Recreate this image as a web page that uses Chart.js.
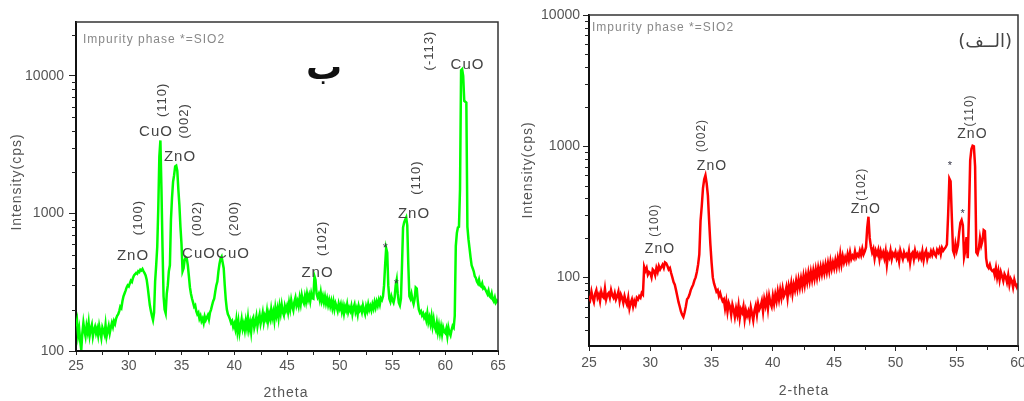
<!DOCTYPE html>
<html>
<head>
<meta charset="utf-8">
<script src="https://cdn.jsdelivr.net/npm/chart.js@4.4.1/dist/chart.umd.min.js"></script>
<style>
  html, body { margin: 0; padding: 0; background: #fff; }
  #wrap { position: relative; width: 1024px; height: 401px; overflow: hidden; }
  canvas { position: absolute; top: 0; }
</style>
</head>
<body>
<div id="wrap">
  <canvas id="leftChart" width="512" height="401" style="left:0"></canvas>
  <canvas id="rightChart" width="512" height="401" style="left:512px"></canvas>
</div>
<script>
// both scans start at 25 deg with a 0.1 deg step
const scanStart = 25;
const scanStep = 0.1;

// left pattern (green), 25.0 .. 65.0 deg, one row per degree
const leftCounts = [
  150,165,130,145,118,102,135,160,140,128,
  152,138,160,130,145,155,128,142,150,135,
  145,130,152,138,125,148,140,132,155,128,
  140,152,135,148,160,150,165,158,172,180,
  185,195,210,205,230,250,262,275,290,300,
  295,310,325,318,340,355,362,370,365,380,
  375,390,385,395,380,368,355,330,290,250,
  215,195,180,168,190,320,420,570,1100,2600,
  3400,1500,570,250,200,188,260,300,380,420,
  900,1300,1700,1900,2200,2230,2050,1500,1150,800,
  600,380,400,460,480,470,420,350,290,260,
  240,225,210,215,195,185,190,172,180,165,
  172,160,178,168,175,182,170,190,200,215,
  230,240,270,300,320,380,430,470,485,440,
  400,300,235,200,185,178,170,160,165,150,
  158,145,168,140,162,136,152,170,146,158,
  142,165,148,174,145,160,138,168,175,148,
  160,178,152,170,184,158,172,190,162,180,
  170,194,165,186,172,200,175,192,168,205,
  182,202,175,210,188,216,192,182,212,198,
  212,192,224,202,234,212,198,228,244,215,
  230,212,244,220,254,232,222,250,228,260,
  236,254,230,262,242,240,350,330,262,246,
  258,236,266,232,250,226,248,222,240,216,
  234,212,230,206,228,202,222,210,196,220,
  204,218,194,212,188,210,198,218,192,206,
  196,212,186,206,218,192,204,185,212,198,
  206,192,214,198,186,210,196,218,200,212,
  198,218,204,226,208,228,214,234,218,242,
  235,250,300,420,560,520,300,240,228,250,
  235,225,245,300,330,260,225,215,240,420,
  790,860,900,935,820,420,250,240,260,235,
  220,240,290,285,230,200,190,195,182,188,
  175,182,168,188,162,175,158,178,152,170,
  150,142,160,138,154,135,150,132,148,138,
  135,145,128,148,136,130,142,152,148,180,
  580,720,790,800,1500,11000,11200,10000,6600,6500,
  6400,800,650,560,480,420,400,380,350,340,
  320,310,330,300,295,310,285,290,280,270,
  260,275,250,245,262,238,230,245,225,232,
  225
];

// right pattern (red), 25.0 .. 60.0 deg
const rightCounts = [
  72,68,78,70,65,75,80,70,74,66,
  78,72,70,82,68,74,76,70,80,73,
  70,76,68,72,78,66,74,70,64,72,
  66,62,70,58,64,68,60,66,62,70,
  68,72,70,76,74,120,112,118,105,110,
  108,100,115,112,104,118,110,122,115,120,
  125,118,130,128,122,115,118,108,100,92,
  88,80,72,65,60,55,52,50,54,60,
  68,70,74,80,84,88,95,100,110,125,
  150,270,350,480,560,600,520,420,270,180,
  130,100,90,84,78,80,72,76,70,66,
  68,58,66,55,64,60,52,62,57,50,
  58,52,61,49,57,54,60,48,56,51,
  55,49,59,53,47,56,61,52,63,57,
  60,66,55,68,61,70,58,72,64,60,
  72,63,74,66,78,68,80,70,82,72,
  76,84,70,86,78,90,75,88,80,94,
  82,96,84,98,86,102,88,104,92,108,
  94,110,96,112,98,115,100,118,104,120,
  106,122,108,125,110,128,112,132,116,130,
  118,135,120,140,124,150,126,145,130,142,
  132,150,135,155,138,146,140,158,142,150,
  145,160,148,165,150,158,170,240,290,200,
  172,155,165,140,160,150,162,138,158,145,
  155,140,158,125,150,142,160,138,152,146,
  156,140,150,132,160,148,138,155,145,150,
  140,158,130,150,155,138,160,145,152,140,
  150,140,158,135,152,160,138,150,145,158,
  148,160,150,145,162,155,165,150,168,160,
  165,170,178,300,566,540,290,160,150,180,
  160,175,220,260,273,250,143,160,203,140,
  300,780,950,1010,1000,700,155,150,165,200,
  175,190,229,225,140,122,118,125,115,112,
  114,104,118,100,112,96,110,102,94,106,
  101,92,104,88,98,94,84,96,88,84,
  90
];

const leftXTicks = [25, 30, 35, 40, 45, 50, 55, 60, 65];
const rightXTicks = [25, 30, 35, 40, 45, 50, 55, 60];
const yTicks = [100, 1000, 10000];

// peak labels anchored at (2theta, counts)
const leftPeaks = [
  { t: "ZnO", x: 30.4, y: 488 },
  { t: "(100)", x: 30.92, y: 935, rot: true },
  { t: "CuO", x: 32.58, y: 3925 },
  { t: "(110)", x: 33.2, y: 6700, rot: true },
  { t: "ZnO", x: 34.86, y: 2565 },
  { t: "(002)", x: 35.24, y: 4720, rot: true },
  { t: "CuO", x: 36.66, y: 505 },
  { t: "(002)", x: 36.52, y: 920, rot: true },
  { t: "CuO", x: 39.88, y: 505 },
  { t: "(200)", x: 40.0, y: 920, rot: true },
  { t: "ZnO", x: 47.89, y: 367 },
  { t: "(102)", x: 48.32, y: 659, rot: true },
  { t: "*", x: 54.37, y: 586, star: true },
  { t: "*", x: 55.4, y: 318, star: true },
  { t: "ZnO", x: 57.04, y: 1000 },
  { t: "(110)", x: 57.23, y: 1824, rot: true },
  { t: "CuO", x: 62.11, y: 12110 },
  { t: "(-113)", x: 58.46, y: 15310, rot: true }
];

const rightPeaks = [
  { t: "ZnO", x: 30.79, y: 164 },
  { t: "(100)", x: 30.38, y: 273, rot: true },
  { t: "ZnO", x: 35.03, y: 702 },
  { t: "(002)", x: 34.18, y: 1208, rot: true },
  { t: "ZnO", x: 47.59, y: 330 },
  { t: "(102)", x: 47.24, y: 513, rot: true },
  { t: "*", x: 54.49, y: 747, star: true },
  { t: "*", x: 55.53, y: 322, star: true },
  { t: "ZnO", x: 56.28, y: 1230 },
  { t: "(110)", x: 56.08, y: 1871, rot: true }
];

const FONT = '"Liberation Sans", Arial, sans-serif';
const ARABIC = '"DejaVu Sans", sans-serif';
const TEXT = "#555";

Chart.defaults.font.family = FONT;
Chart.defaults.color = TEXT;

function toPoints(counts) {
  return counts.map((c, i) => ({ x: +(scanStart + i * scanStep).toFixed(1), y: c }));
}

// frame, minor ticks, peak labels and free text
const xrdDecor = {
  id: "xrdDecor",
  afterDraw(chart, args, opts) {
    const { ctx, chartArea: a } = chart;
    const xs = chart.scales.x, ys = chart.scales.y;
    ctx.save();

    ctx.strokeStyle = "#333";
    ctx.lineWidth = 1.5;
    ctx.beginPath();
    ctx.moveTo(a.left, a.top);
    ctx.lineTo(a.right, a.top);
    ctx.lineTo(a.right, a.bottom);
    ctx.stroke();

    ctx.strokeStyle = "#222";
    ctx.lineWidth = 1;
    for (let v = xs.min + 2.5; v < xs.max; v += 5) {
      const px = Math.round(xs.getPixelForValue(v)) + 0.5;
      ctx.beginPath();
      ctx.moveTo(px, a.bottom);
      ctx.lineTo(px, a.bottom + 4);
      ctx.stroke();
    }
    const d0 = Math.floor(Math.log10(ys.min)), d1 = Math.ceil(Math.log10(ys.max));
    for (let d = d0; d <= d1; d++) {
      for (let m = 2; m <= 9; m++) {
        const v = m * Math.pow(10, d);
        if (v <= ys.min || v >= ys.max) continue;
        const py = Math.round(ys.getPixelForValue(v)) + 0.5;
        ctx.beginPath();
        ctx.moveTo(a.left - 4, py);
        ctx.lineTo(a.left, py);
        ctx.stroke();
      }
    }

    ctx.textAlign = "center";
    ctx.textBaseline = "middle";
    ctx.letterSpacing = "1px";
    opts.peaks.forEach((p) => {
      const px = xs.getPixelForValue(p.x);
      const py = ys.getPixelForValue(p.y);
      ctx.fillStyle = p.star ? "#334" : "#444";
      if (p.rot) {
        ctx.font = opts.rotSize + "px " + FONT;
        ctx.save();
        ctx.translate(px, py);
        ctx.rotate(-Math.PI / 2);
        ctx.fillText(p.t, 0, 0);
        ctx.restore();
      } else if (p.star) {
        ctx.font = opts.starSize + "px " + FONT;
        ctx.fillText(p.t, px, py + 3);
      } else {
        ctx.font = opts.labelSize + "px " + FONT;
        ctx.fillText(p.t, px, py);
      }
    });

    opts.notes.forEach((n) => {
      ctx.font = n.font;
      ctx.fillStyle = n.color;
      ctx.letterSpacing = n.spacing || "0px";
      ctx.textAlign = n.align || "center";
      const nx = n.fromRight ? a.right + n.dx : a.left + n.dx;
      ctx.fillText(n.t, nx, a.top + n.dy);
    });

    ctx.textAlign = "center";
    ctx.fillStyle = TEXT;
    ctx.letterSpacing = "1px";
    ctx.font = opts.titleSize + "px " + FONT;
    ctx.fillText(opts.xTitle, opts.xTitlePos[0], opts.xTitlePos[1]);
    ctx.save();
    ctx.translate(opts.yTitlePos[0], opts.yTitlePos[1]);
    ctx.rotate(-Math.PI / 2);
    ctx.fillText(opts.yTitle, 0, 0);
    ctx.restore();

    ctx.letterSpacing = "0px";
    ctx.restore();
  }
};

function makeChart(id, cfg) {
  return new Chart(document.getElementById(id), {
    type: "line",
    data: {
      datasets: [{
        data: toPoints(cfg.counts),
        borderColor: cfg.color,
        borderWidth: 2.5,
        pointRadius: 0,
        tension: 0,
        fill: false
      }]
    },
    options: {
      responsive: false,
      animation: false,
      devicePixelRatio: 1,
      layout: { padding: { left: 0, right: cfg.padRight, top: cfg.padTop, bottom: 0 } },
      plugins: {
        legend: { display: false },
        tooltip: { enabled: false },
        xrdDecor: cfg.decor
      },
      scales: {
        x: {
          type: "linear",
          min: cfg.xTicks[0],
          max: cfg.xTicks[cfg.xTicks.length - 1],
          afterBuildTicks: (s) => { s.ticks = cfg.xTicks.map((v) => ({ value: v })); },
          afterFit: (s) => { s.height = cfg.xAxisH; s.paddingLeft = 0; s.paddingRight = 0; },
          border: { display: true, color: "#111", width: 2 },
          grid: { drawOnChartArea: false, drawTicks: true, tickLength: cfg.xTickLen, color: "#222" },
          ticks: { font: { size: 14 }, color: TEXT, padding: cfg.xTickPad, maxRotation: 0 }
        },
        y: {
          type: "logarithmic",
          min: cfg.yMin,
          max: cfg.yMax,
          bounds: "data",
          afterBuildTicks: (s) => { s.ticks = yTicks.filter((v) => v >= cfg.yMin && v <= cfg.yMax).map((v) => ({ value: v })); },
          afterFit: (s) => { s.width = cfg.yAxisW; s.paddingTop = 0; s.paddingBottom = 0; },
          border: { display: true, color: "#111", width: 2 },
          grid: { drawOnChartArea: false, drawTicks: true, tickLength: cfg.yTickLen, color: "#222" },
          ticks: { font: { size: 14 }, color: TEXT, padding: cfg.yTickPad, callback: (v) => String(v) }
        }
      }
    },
    plugins: [xrdDecor]
  });
}

makeChart("leftChart", {
  counts: leftCounts,
  color: "#00ff00",
  xTicks: leftXTicks,
  yMin: 100,
  yMax: 24700,
  padRight: 14,
  padTop: 22,
  xAxisH: 50,
  yAxisW: 76,
  xTickLen: 4,
  xTickPad: 3,
  yTickLen: 7,
  yTickPad: 5,
  decor: {
    peaks: leftPeaks,
    labelSize: 15,
    rotSize: 13,
    starSize: 13,
    titleSize: 14,
    xTitle: "2theta",
    xTitlePos: [286, 393],
    yTitle: "Intensity(cps)",
    yTitlePos: [17, 182],
    notes: [
      { t: "Impurity phase *=SIO2", dx: 7, dy: 18, align: "left", font: "12px " + FONT, color: "#888", spacing: "1px" },
      { t: "ب", dx: 248, dy: 48, font: "bold 36px " + ARABIC, color: "#111" }
    ]
  }
});

makeChart("rightChart", {
  counts: rightCounts,
  color: "#ff0000",
  xTicks: rightXTicks,
  yMin: 30,
  yMax: 10000,
  padRight: 6,
  padTop: 15,
  xAxisH: 55,
  yAxisW: 77,
  xTickLen: 5,
  xTickPad: 4,
  yTickLen: 6,
  yTickPad: 3,
  decor: {
    peaks: rightPeaks,
    labelSize: 14,
    rotSize: 12,
    starSize: 11,
    titleSize: 14,
    xTitle: "2-theta",
    xTitlePos: [292, 391],
    yTitle: "Intensity(cps)",
    yTitlePos: [16, 170],
    notes: [
      { t: "Impurity phase *=SIO2", dx: 3, dy: 13, align: "left", font: "12px " + FONT, color: "#888", spacing: "1px" },
      { t: "(الــف)", dx: -6, dy: 27, align: "right", fromRight: true, font: "18px " + ARABIC, color: "#444" }
    ]
  }
});
</script>
</body>
</html>
